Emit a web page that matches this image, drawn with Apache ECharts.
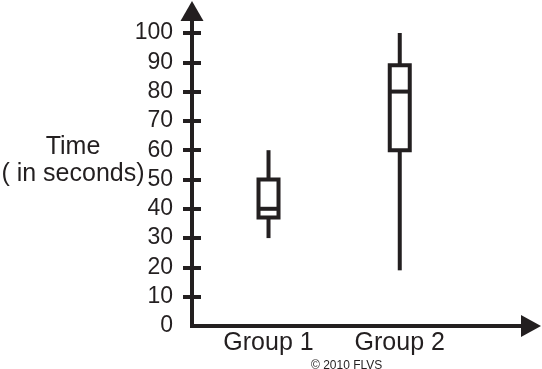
<!DOCTYPE html>
<html><head><meta charset="utf-8">
<script src="https://cdn.jsdelivr.net/npm/echarts@6/dist/echarts.min.js"></script>
<style>html,body{margin:0;padding:0;background:#fff}#c{width:542px;height:369px}</style>
</head><body><div id="c"></div>
<script>
const groups = ['Group 1', 'Group 2'];
const groupX = [1, 2];
const mins = [30, 19];
const q1s = [37, 60];
const medians = [40, 80];
const q3s = [50, 89];
const maxs = [60, 100];
const yTickValues = [10, 20, 30, 40, 50, 60, 70, 80, 90, 100];
const yLabelValues = [0, 10, 20, 30, 40, 50, 60, 70, 80, 90, 100];

const INK = '#231f20';
const FONT = '"Liberation Sans", Arial, Helvetica, sans-serif';
const data = groupX.map((x, i) => [x, mins[i], q1s[i], medians[i], q3s[i], maxs[i]]);

const chart = echarts.init(document.getElementById('c'), null, {renderer: 'canvas'});
chart.setOption({
  animation: false,
  grid: {left: 192, right: 11, top: 11, bottom: 43, containLabel: false, outerBoundsMode: 'none'},
  title: {
    text: '© 2010 FLVS', left: 306, top: 355,
    textStyle: {fontFamily: FONT, fontSize: 12, fontWeight: 'normal', color: INK}
  },
  xAxis: {
    type: 'value', min: 0.417, max: 3,
    splitLine: {show: false},
    axisTick: {show: false},
    axisLine: {onZero: false, lineStyle: {color: INK, width: 4, cap: 'square'},
      symbol: ['none', 'triangle'], symbolSize: [22, 20]},
    axisLabel: {
      customValues: groupX,
      formatter: v => groups[groupX.indexOf(Math.round(v))] || '',
      color: INK, fontFamily: FONT, fontSize: 25, margin: 5
    }
  },
  yAxis: [{
    type: 'value', min: 0, max: 107.5,
    name: '{a|Time}\n{a|( in seconds)}\n{s| }', nameLocation: 'middle', nameRotate: 0, nameGap: 119,
    nameMoveOverlap: false,
    nameTextStyle: {align: 'center', verticalAlign: 'middle', fontFamily: FONT, fontSize: 25, color: INK,
      rich: {
        a: {fontFamily: FONT, fontSize: 25, lineHeight: 27, color: INK, align: 'center'},
        s: {fontFamily: FONT, fontSize: 10, lineHeight: 16, color: INK, align: 'center'}
      }},
    splitLine: {show: false},
    axisLine: {onZero: false, lineStyle: {color: INK, width: 4, cap: 'square'},
      symbol: ['none', 'triangle'], symbolSize: [23, 20]},
    axisTick: {customValues: yTickValues, length: 9, lineStyle: {color: INK, width: 4}},
    axisLabel: {customValues: yLabelValues, color: INK, fontFamily: FONT, fontSize: 23, margin: 19}
  }, {
    type: 'value', min: 0, max: 107.5, position: 'left',
    axisLine: {show: false, onZero: false},
    axisLabel: {show: false},
    splitLine: {show: false},
    axisTick: {inside: true, customValues: yTickValues, length: 9, lineStyle: {color: INK, width: 4}}
  }],
  series: [{
    type: 'custom',
    data: data,
    encode: {x: 0, y: [1, 2, 3, 4, 5]},
    renderItem: function (params, api) {
      const x = api.value(0);
      const pMin = api.coord([x, api.value(1)]);
      const pQ1 = api.coord([x, api.value(2)]);
      const pMed = api.coord([x, api.value(3)]);
      const pQ3 = api.coord([x, api.value(4)]);
      const pMax = api.coord([x, api.value(5)]);
      const hw = 10;
      const ls = {stroke: INK, lineWidth: 4, fill: null};
      return {type: 'group', children: [
        {type: 'line', shape: {x1: pMax[0], y1: pMax[1], x2: pQ3[0], y2: pQ3[1]}, style: ls},
        {type: 'line', shape: {x1: pQ1[0], y1: pQ1[1], x2: pMin[0], y2: pMin[1]}, style: ls},
        {type: 'rect', shape: {x: pQ3[0] - hw, y: pQ3[1], width: 2 * hw, height: pQ1[1] - pQ3[1]},
          style: {stroke: INK, lineWidth: 4, fill: '#fff'}},
        {type: 'line', shape: {x1: pMed[0] - hw, y1: pMed[1], x2: pMed[0] + hw, y2: pMed[1]}, style: ls}
      ]};
    }
  }]
});
</script>
</body></html>
